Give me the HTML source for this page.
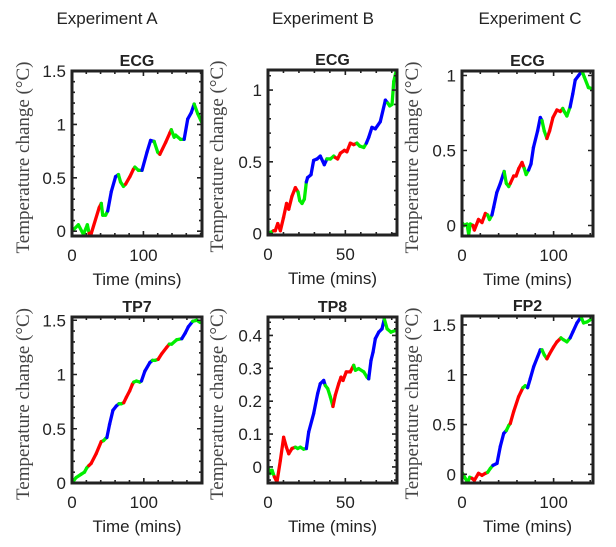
<!DOCTYPE html>
<html><head><meta charset="utf-8"><style>
html,body{margin:0;padding:0;background:#fff;}
svg{display:block;}
text{font-family:"Liberation Sans",sans-serif;fill:#222;}
</style></head><body>
<svg id="fig" width="616" height="547" viewBox="0 0 616 547" xmlns="http://www.w3.org/2000/svg">
<text x="107" y="24" text-anchor="middle" font-size="17">Experiment A</text>
<text x="323" y="24" text-anchor="middle" font-size="17">Experiment B</text>
<text x="530" y="24" text-anchor="middle" font-size="17">Experiment C</text>
</svg>
<script>
// ---- data ----
const tA=[0,8.9,16,21.5,24,27,38,41,43,47,50,55,61,65,68,72,75,81,86,88,93,98,105,110,115,120,123,131,137,139,143,145,152,157,162,167,171,176,183];
const vA=[0,0.06,-0.03,0.06,-0.02,-0.02,0.22,0.26,0.15,0.15,0.19,0.37,0.51,0.53,0.46,0.42,0.44,0.51,0.58,0.6,0.57,0.57,0.74,0.85,0.84,0.74,0.72,0.83,0.92,0.95,0.88,0.9,0.86,0.86,1.05,1.11,1.19,1.1,1.0];
const cA=['g','g','g','g','g','r','r','r','g','g','g','b','b','b','g','g','g','r','r','r','g','g','b','b','b','g','g','r','r','r','g','g','g','g','b','b','b','g','g'];

const tB=[0,3.7,4.7,6.3,8,10,12,13.4,15.5,17.7,19.4,20.5,22,23.5,24.8,25.6,27.8,29.5,31.7,33.8,36.4,38.1,40.3,42.5,43.5,45,46.8,49.4,51,53.2,55.4,57.5,59.3,61.9,63.6,65.1,67.2,69.4,72.6,75.9,77.4,78.7,80.2,81.3,83];
const vB=[0,0.02,0.02,0.07,0.02,0.11,0.21,0.17,0.26,0.32,0.29,0.23,0.21,0.24,0.36,0.39,0.41,0.51,0.52,0.54,0.48,0.52,0.52,0.54,0.53,0.52,0.56,0.58,0.57,0.63,0.62,0.63,0.61,0.6,0.63,0.67,0.74,0.73,0.78,0.93,0.91,0.89,0.9,1.06,1.14];
const cB=['g','g','r','r','r','r','r','r','r','r','r','g','g','g','g','b','b','b','b','b','b','b','g','g','g','r','r','r','r','r','r','r','g','g','g','b','b','b','b','b','b','g','g','g','g'];

const tC=[0,2.5,5.5,7.3,9,12,13.5,18,21.8,25.5,28,30,32.7,34.5,38,41.8,46,48.4,51,52.7,56.4,59,62,65.5,68,70,72.7,75.3,78,82.5,85.5,87.3,89.8,92.7,95.6,99.3,103.6,107.3,110,111.6,114.5,118,121,123.6,127.3,131,133.5,138,143];
const vC=[0.02,0,0.01,-0.06,0.01,0,-0.03,0.04,0.02,0.08,0.07,0.04,0.07,0.12,0.22,0.28,0.36,0.28,0.26,0.28,0.33,0.33,0.38,0.42,0.38,0.34,0.37,0.41,0.52,0.63,0.72,0.7,0.63,0.58,0.63,0.72,0.77,0.76,0.78,0.76,0.73,0.79,0.88,0.97,1.0,1.03,0.99,0.92,0.91];
const cC=['g','g','g','g','g','g','r','r','r','r','r','g','g','b','b','b','b','g','g','g','r','r','r','r','r','g','g','b','b','b','b','b','g','g','r','r','r','r','r','g','g','g','b','b','b','b','g','g','g'];

const tD=[0,5.6,12.6,17.3,20.6,23.4,26.6,33.6,40.6,43.9,46.7,48.6,52.3,57,61.7,65.4,68.7,72,75.7,80.4,84.1,86,89.7,94.4,96.7,101.4,108.4,112,115.4,120,124.8,131.8,135.5,138.8,145.8,152.8,157.5,162,168,173.8,178.5];
const vD=[0,0.05,0.08,0.1,0.14,0.16,0.18,0.27,0.38,0.39,0.41,0.42,0.54,0.67,0.71,0.73,0.73,0.74,0.79,0.85,0.91,0.93,0.94,0.93,0.94,1.03,1.11,1.13,1.13,1.14,1.19,1.25,1.28,1.28,1.32,1.33,1.38,1.44,1.49,1.5,1.48];
const cD=['g','g','g','g','g','g','r','r','r','r','g','g','b','b','b','b','g','g','r','r','r','r','g','g','g','b','b','b','g','g','r','r','r','g','g','g','b','b','b','g','g'];

const tE=[0,1.5,2.6,4.1,5.8,8,10.1,11.9,13.4,15.5,17.7,19.2,20.9,23,24.8,26.3,29.5,32.1,33.8,36,37,38.6,40.3,42,43.5,45.7,47.2,48.5,50.6,53.2,55.4,56.5,58.6,61.9,64,65.1,66.6,67.9,69.4,71.6,73.7,75.2,77,79.5,82.3,83.4];
const vE=[0,-0.02,-0.01,-0.03,-0.046,0.02,0.09,0.06,0.04,0.056,0.06,0.056,0.06,0.054,0.056,0.106,0.162,0.223,0.253,0.263,0.248,0.238,0.213,0.184,0.218,0.253,0.273,0.263,0.289,0.289,0.309,0.294,0.299,0.289,0.273,0.268,0.324,0.349,0.39,0.41,0.42,0.45,0.42,0.41,0.415,0.415];
const cE=['g','g','g','g','r','r','r','r','r','r','r','g','g','g','g','b','b','b','b','b','b','g','g','g','r','r','r','r','r','r','r','g','g','g','g','g','b','b','b','b','b','b','g','g','g','g'];

const tF=[0,3.6,6.2,8.4,10.9,13.5,18,21.8,25.5,28,31,33.8,38.2,41.8,45.5,48.4,51,52.7,56.4,61.8,66.5,69,71.6,74.5,78.2,82.5,85.5,87.3,89.8,92.7,95.6,100,103.6,108,111,114.5,118,121,125.5,130,132.7,136.4,143];
const vF=[0.02,-0.04,-0.08,-0.03,-0.04,-0.06,0.01,-0.01,0.01,0.02,0.06,0.09,0.11,0.28,0.41,0.44,0.49,0.51,0.63,0.78,0.87,0.89,0.87,0.96,1.08,1.18,1.25,1.25,1.2,1.16,1.21,1.28,1.33,1.37,1.35,1.33,1.37,1.43,1.52,1.58,1.52,1.53,1.57];
const cF=['g','g','g','g','g','r','r','r','r','r','g','g','b','b','b','b','g','g','r','r','r','g','g','b','b','b','b','b','g','g','r','r','r','r','g','g','g','b','b','b','g','g','g'];

// tick label arrays
const xTicksA=[0,100], yTicksA=[0,0.5,1,1.5];
const xTicksB=[0,50], yTicksB=[0,0.5,1];
const xTicksC=[0,100], yTicksC=[0,0.5,1];
const xTicksD=[0,100], yTicksD=[0,0.5,1,1.5];
const xTicksE=[0,50], yTicksE=[0,0.1,0.2,0.3,0.4];
const xTicksF=[0,100], yTicksF=[0,0.5,1,1.5];

const NS='http://www.w3.org/2000/svg';
const svg=document.getElementById('fig');
const COL={g:'#00ee00',r:'#ff0000',b:'#0000ff'};
function mk(tag,attrs,parent){const e=document.createElementNS(NS,tag);for(const k in attrs)e.setAttribute(k,attrs[k]);(parent||svg).appendChild(e);return e;}

function panel(id,title,box,xlim,ylim,xt,yt,xminor,yminor,ylx,t,v,c){
  const g=mk('g',{});
  
  
  const [L,T,R,B]=box;
  const sx=x=>L+(x-xlim[0])/(xlim[1]-xlim[0])*(R-L);
  const sy=y=>B-(y-ylim[0])/(ylim[1]-ylim[0])*(B-T);
  const clip=mk('clipPath',{id:'clip'+id},g);
  mk('rect',{x:L,y:T,width:R-L,height:B-T},clip);
  const lg=mk('g',{'clip-path':'url(#clip'+id+')'},g);
  
  
  for(let i=1;i<t.length;i++){
    const s=mk('line',{x1:sx(t[i-1]),y1:sy(v[i-1]),x2:sx(t[i]),y2:sy(v[i]),stroke:COL[c[i]],'stroke-width':3.3,'stroke-linecap':'round'},lg);
    
    
  }
  let d='';
  for(let y=Math.ceil(ylim[0]/yminor)*yminor;y<=ylim[1]+1e-9;y+=yminor){const p=sy(y);d+=`M${L},${p}h3M${R},${p}h-3`;}
  for(let x=Math.ceil(xlim[0]/xminor)*xminor;x<=xlim[1]+1e-9;x+=xminor){const p=sx(x);d+=`M${p},${B}v-3M${p},${T}v3`;}
  for(const y of yt){const p=sy(y);d+=`M${L},${p}h5M${R},${p}h-5`;}
  for(const x of xt){const p=sx(x);d+=`M${p},${B}v-5M${p},${T}v5`;}
  const tk=mk('path',{d:d,stroke:'#222','stroke-width':1.6,fill:'none'},g);
  
  
  const fr=mk('rect',{x:L,y:T,width:R-L,height:B-T,fill:'none',stroke:'#222','stroke-width':3},g);
  
  
  for(const y of yt){
    const e=mk('text',{x:L-6,y:sy(y)+6,'text-anchor':'end','font-size':17},g);
    e.textContent=String(y);
    
    
  }
  for(const x of xt){
    const e=mk('text',{x:sx(x),y:B+25,'text-anchor':'middle','font-size':17},g);
    e.textContent=String(x);
    
    
  }
  const ti=mk('text',{x:(L+R)/2,y:T-5,'text-anchor':'middle','font-size':16,'font-weight':'bold'},g);
  ti.textContent=title;
  
  
  const xl=mk('text',{x:(L+R)/2,y:B+49,'text-anchor':'middle','font-size':17},g);
  xl.textContent='Time (mins)';
  
  
  const cy=(T+B)/2+4;
  const yl=mk('text',{x:ylx,y:cy,'text-anchor':'middle','font-size':19,transform:`rotate(-90 ${ylx} ${cy})`,style:'font-family:"Liberation Serif",serif;fill:#444'},g);
  yl.textContent='Temperature change (°C)';
  
  
}
panel('a-ecg','ECG',[72,71,202,236],[0,182],[-0.045,1.5],xTicksA,yTicksA,20,0.1,29,tA,vA,cA);
panel('b-ecg','ECG',[268,70,397,235],[0,83.4],[-0.01,1.14],xTicksB,yTicksB,10,0.1,223,tB,vB,cB);
panel('c-ecg','ECG',[462,71,593,236],[0,143],[-0.07,1.03],xTicksC,yTicksC,20,0.1,418,tC,vC,cC);
panel('a-tp7','TP7',[72,317,202,483],[0,181],[0,1.53],xTicksD,yTicksD,20,0.1,29,tD,vD,cD);
panel('b-tp8','TP8',[268,317,397,483],[0,83.4],[-0.049,0.456],xTicksE,yTicksE,10,0.02,223,tE,vE,cE);
panel('c-fp2','FP2',[462,316,593,483],[0,143],[-0.087,1.59],xTicksF,yTicksF,20,0.1,418,tF,vF,cF);
</script>
</body></html>
